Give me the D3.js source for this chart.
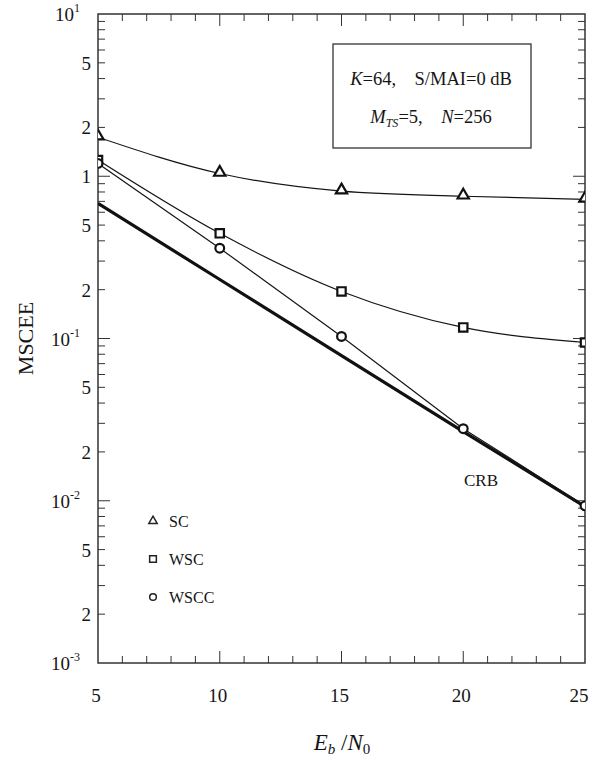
<!DOCTYPE html>
<html>
<head>
<meta charset="utf-8">
<script src="https://cdn.jsdelivr.net/npm/d3@7/dist/d3.min.js"></script>
<style>
  html, body { margin: 0; padding: 0; background: #fff; }
  svg { display: block; }
  text { font-family: "Liberation Serif", "DejaVu Serif", serif; fill: #151515; }
</style>
</head>
<body>
<svg id="chart" width="591" height="759"></svg>
<script>
// Eb/N0 points (dB)
const snr = [5, 10, 15, 20, 25];
// MSCEE for each scheme
const scValues   = [1.74, 1.04, 0.81, 0.753, 0.72];
const wscValues  = [1.26, 0.445, 0.195, 0.117, 0.0945];
const wsccValues = [1.20, 0.36, 0.103, 0.0278, 0.0093];
const crbValues  = [0.68, 0.231, 0.0785, 0.0267, 0.0092];

const xTickLabels = [5, 10, 15, 20, 25];
const yDecadeExps = [-3, -2, -1, 0, 1];
const yMantissaLabels = [2, 5];
const legendNames = ["SC", "WSC", "WSCC"];

const svg = d3.select("#chart");
const ink = "#151515";
const L = 98, R = 585, T = 14, B = 663;

const x = d3.scaleLinear().domain([5, 25]).range([L, R]);
const y = d3.scaleLog().domain([1e-3, 10]).range([B, T]);

// clip for plotted marks
svg.append("defs").append("clipPath").attr("id", "plotClip")
  .append("rect").attr("x", L).attr("y", T).attr("width", R - L).attr("height", B - T);

// frame
svg.append("rect").attr("x", L).attr("y", T).attr("width", R - L).attr("height", B - T)
  .attr("fill", "none").attr("stroke", "#333").attr("stroke-width", 1.5);

// x ticks (minor every 1 dB, major every 5 dB), pointing inward on top and bottom
const xMinor = d3.range(5, 26, 1);
const xt = svg.append("g").attr("stroke", "#333").attr("stroke-width", 1);
xMinor.forEach(v => {
  const len = (v % 5 === 0) ? 12 : 7;
  if (v === 5 || v === 25) return;
  xt.append("line").attr("x1", x(v)).attr("x2", x(v)).attr("y1", B).attr("y2", B - len);
  xt.append("line").attr("x1", x(v)).attr("x2", x(v)).attr("y1", T).attr("y2", T + len);
});

// y ticks: decades long, mantissas short, on left and right
const yt = svg.append("g").attr("stroke", "#333").attr("stroke-width", 1);
yDecadeExps.forEach(e => {
  if (e === 1) return;
  for (let m = 1; m <= 9; m++) {
    const v = m * Math.pow(10, e);
    if (v <= 1e-3 || v >= 10) continue;
    const len = (m === 1) ? 12 : 7;
    yt.append("line").attr("x1", L).attr("x2", L + len).attr("y1", y(v)).attr("y2", y(v));
    yt.append("line").attr("x1", R).attr("x2", R - len).attr("y1", y(v)).attr("y2", y(v));
  }
});

// x tick labels
svg.append("g").selectAll("text").data(xTickLabels).join("text")
  .attr("x", d => d === 25 ? x(d) - 6 : x(d) - 2).attr("y", B + 39)
  .attr("text-anchor", "middle").attr("font-size", 19).text(d => d);

// y tick labels: decades
yDecadeExps.forEach(e => {
  const t = svg.append("text").attr("x", 80).attr("y", y(Math.pow(10, e)) + 7)
    .attr("text-anchor", "end").attr("font-size", 19);
  if (e === 0) {
    t.attr("x", 91).text("1");
  } else {
    t.append("tspan").text("10");
    t.append("tspan").attr("dy", -9).attr("font-size", 12).text(e);
  }
});
// y tick labels: 2 and 5 within each decade
yDecadeExps.forEach(e => {
  if (e === 1) return;
  yMantissaLabels.forEach(m => {
    svg.append("text").attr("x", 91).attr("y", y(m * Math.pow(10, e)) + 7)
      .attr("text-anchor", "end").attr("font-size", 19).text(m);
  });
});

// axis titles
svg.append("text").attr("transform", `translate(33,${(T + B) / 2}) rotate(-90)`)
  .attr("text-anchor", "middle").attr("font-size", 22).text("MSCEE");

const xt2 = svg.append("text").attr("x", 342).attr("y", 750).attr("text-anchor", "middle").attr("font-size", 23);
xt2.append("tspan").attr("font-style", "italic").text("E");
xt2.append("tspan").attr("font-style", "italic").attr("font-size", 15).attr("dy", 4).text("b");
xt2.append("tspan").attr("dy", -4).text(" /");
xt2.append("tspan").attr("font-style", "italic").text("N");
xt2.append("tspan").attr("font-size", 15).attr("dy", 4).text("0");

// series lines
const plot = svg.append("g").attr("clip-path", "url(#plotClip)");
const pts = vals => snr.map((s, i) => [s, vals[i]]);
const smooth = d3.line().x(d => x(d[0])).y(d => y(d[1])).curve(d3.curveMonotoneX);
const straight = d3.line().x(d => x(d[0])).y(d => y(d[1]));

plot.append("path").attr("d", straight(pts(crbValues)))
  .attr("fill", "none").attr("stroke", "#111").attr("stroke-width", 3.2);
plot.append("path").attr("d", smooth(pts(scValues)))
  .attr("fill", "none").attr("stroke", ink).attr("stroke-width", 1.2);
plot.append("path").attr("d", smooth(pts(wscValues)))
  .attr("fill", "none").attr("stroke", ink).attr("stroke-width", 1.2);
plot.append("path").attr("d", straight(pts(wsccValues)))
  .attr("fill", "none").attr("stroke", ink).attr("stroke-width", 1.2);

// markers
const triSym = d3.symbol().type(d3.symbolTriangle).size(55);
const sqSym = d3.symbol().type(d3.symbolSquare).size(70);
const ciSym = d3.symbol().type(d3.symbolCircle).size(60);

function markers(vals, sym, dy) {
  plot.append("g").selectAll("path").data(pts(vals)).join("path")
    .attr("transform", d => `translate(${x(d[0])},${y(d[1]) + (dy || 0)})`)
    .attr("d", sym).attr("fill", "#fff").attr("stroke", "#111").attr("stroke-width", 2.2);
}
markers(scValues, triSym, -1);
markers(wscValues, sqSym);
markers(wsccValues, ciSym);

// CRB label
svg.append("text").attr("x", 481).attr("y", 486).attr("text-anchor", "middle")
  .attr("font-size", 17).text("CRB");

// parameter box
svg.append("rect").attr("x", 333).attr("y", 44).attr("width", 198).attr("height", 104)
  .attr("fill", "#fff").attr("stroke", "#333").attr("stroke-width", 1.3);
const p1 = svg.append("text").attr("x", 431).attr("y", 85).attr("text-anchor", "middle").attr("font-size", 18.5);
p1.append("tspan").attr("font-style", "italic").text("K");
p1.append("tspan").text("=64,\u2003S/MAI=0 dB");
const p2 = svg.append("text").attr("x", 431).attr("y", 123).attr("text-anchor", "middle").attr("font-size", 18.5);
p2.append("tspan").attr("font-style", "italic").text("M");
p2.append("tspan").attr("font-style", "italic").attr("font-size", 12).attr("dy", 4).text("TS");
p2.append("tspan").attr("dy", -4).text("=5,\u2003");
p2.append("tspan").attr("font-style", "italic").text("N");
p2.append("tspan").text("=256");

// legend
const legendSyms = [
  d3.symbol().type(d3.symbolTriangle).size(30),
  d3.symbol().type(d3.symbolSquare).size(45),
  d3.symbol().type(d3.symbolCircle).size(35)
];
const legendY = [521, 559, 597];
legendNames.forEach((name, i) => {
  svg.append("path").attr("transform", `translate(153,${legendY[i]})`)
    .attr("d", legendSyms[i]).attr("fill", "#fff").attr("stroke", "#222").attr("stroke-width", 1.5);
  svg.append("text").attr("x", 169).attr("y", legendY[i] + 6).attr("font-size", 16).text(name);
});
</script>
</body>
</html>
